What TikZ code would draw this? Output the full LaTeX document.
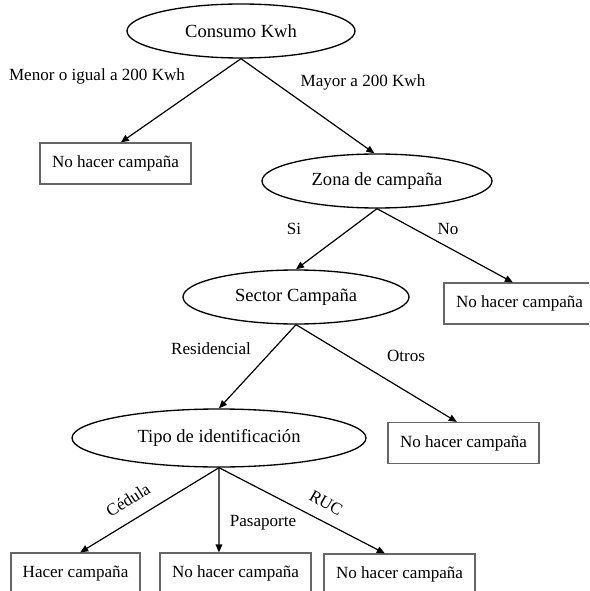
\documentclass[tikz,border=0pt]{standalone}
\usepackage{fontspec}
\setmainfont{Liberation Serif}
\usetikzlibrary{shapes.geometric,arrows.meta}
\begin{document}
\begin{tikzpicture}[x=0.75pt,y=-0.75pt,
  decision/.style={draw=black,line width=1pt,ellipse,inner sep=0pt,
    font=\fontsize{13.9}{16}\selectfont},
  leaf/.style={draw=black!60,line width=0.9pt,rectangle,inner sep=0pt,
    minimum width=113.25pt,minimum height=30.75pt,
    font=\fontsize{12.8}{15}\selectfont},
  branch/.style={draw=black,line width=0.9pt,
    -{Triangle[length=6pt,width=5pt]}},
  edgelabel/.style={font=\fontsize{12.8}{15}\selectfont,inner sep=0pt}]
\useasboundingbox (0,0) rectangle (589,591);
\begin{scope}
\clip (0,0) rectangle (589,591);

% decision nodes
\node[decision,minimum width=171pt,minimum height=40.5pt] (consumo) at (241,31) {Consumo Kwh};
\node[decision,minimum width=172.5pt,minimum height=40.5pt] (zona) at (377,181) {Zona de campaña};
\node[decision,minimum width=169.5pt,minimum height=40.5pt] (sector) at (296,297) {Sector Campaña};
\node[decision,minimum width=220.5pt,minimum height=43.5pt] (tipo) at (219,438) {Tipo de identificación};

% leaves
\node[leaf] (noA) at (115.5,163.5) {No hacer campaña};
\node[leaf] (noB) at (519.5,303.5) {No hacer campaña};
\node[leaf] (noC) at (463.5,443) {No hacer campaña};
\node[leaf,minimum width=96.75pt] (si) at (75.5,573.5) {Hacer campaña};
\node[leaf] (noD) at (235.5,573.5) {No hacer campaña};
\node[leaf] (noE) at (399.5,574.5) {No hacer campaña};

% branches
\draw[branch] (consumo.south) -- ([xshift=4pt]noA.north);
\draw[branch] (consumo.south) -- ([xshift=-2pt]zona.north);
\draw[branch] (zona.south) -- (sector.north);
\draw[branch] (zona.south) -- ([xshift=-5pt]noB.north);
\draw[branch] (sector.south) -- (tipo.north);
\draw[branch] (sector.south) -- ([xshift=-5pt]noC.north);
\draw[branch] (tipo.south) -- ([xshift=3.5pt]si.north);
\draw[branch] (tipo.south) -- ([xshift=-12.4pt]noD.north);
\draw[branch] (tipo.south) -- ([xshift=-11pt]noE.north);

% branch labels
\node[edgelabel] (l1) at (97,76) {Menor o igual a 200 Kwh};
\node[edgelabel] (l2) at (363,82) {Mayor a 200 Kwh};
\node[edgelabel] (l3) at (294,229) {Si};
\node[edgelabel] (l4) at (448,229) {No};
\node[edgelabel] (l5) at (211,349) {Residencial};
\node[edgelabel] (l6) at (406,356) {Otros};
\node[edgelabel,rotate=32] (l7) at (128,500) {Cédula};
\node[edgelabel] (l8) at (263,523) {Pasaporte};
\node[edgelabel,rotate=-30] (l9) at (326,503) {RUC};
\end{scope}
\end{tikzpicture}
\end{document}
